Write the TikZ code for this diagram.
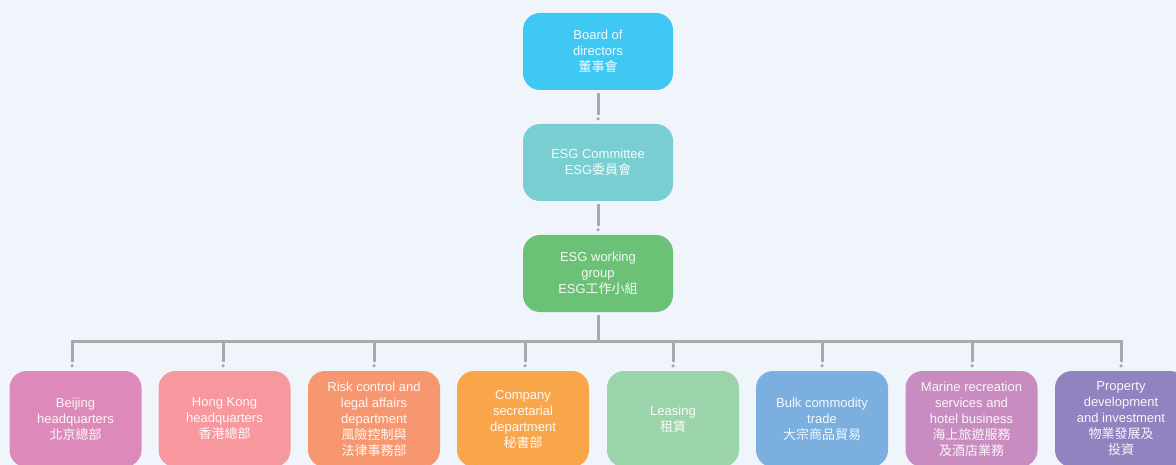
\documentclass[tikz,border=0pt]{standalone}
\usepackage{fontspec}
\setmainfont{Liberation Sans}
\newfontfamily\cjk{Noto Sans CJK TC}
\usetikzlibrary{positioning,calc}
\definecolor{bgc}{HTML}{F0F5FC}
\definecolor{linec}{HTML}{A8A9AD}
\definecolor{cBoard}{HTML}{3FC8F4}
\definecolor{cComm}{HTML}{78CED1}
\definecolor{cWork}{HTML}{6BC276}
\definecolor{cBei}{HTML}{DD8ABA}
\definecolor{cHK}{HTML}{F6989D}
\definecolor{cRisk}{HTML}{F6976F}
\definecolor{cComp}{HTML}{F9A64B}
\definecolor{cLease}{HTML}{9BD4AA}
\definecolor{cBulk}{HTML}{7AAFDF}
\definecolor{cMar}{HTML}{C98CC1}
\definecolor{cProp}{HTML}{9183C0}
\tikzset{
  box/.style={draw=none, rounded corners=17pt, align=center, text=white, text opacity=0.92,
    font=\fontsize{13}{16}\selectfont, inner sep=0pt},
  topbox/.style={box, minimum width=150pt, minimum height=77pt},
  botbox/.style={box, minimum width=132pt, minimum height=96pt},
  conn/.style={draw=linec, line width=3pt},
  dotc/.style={fill=linec},
}
\begin{document}
\begin{tikzpicture}[x=1pt,y=-1pt]
\useasboundingbox (0,0) rectangle (1176,465);
\fill[bgc] (0,0) rectangle (1176,465);
\clip (0,0) rectangle (1176,465);

\node[topbox, fill=cBoard] (board) at (598,51.5) {Board of\\directors\\{\cjk 董事會}};
\node[topbox, fill=cComm] (comm) at (598,162.5) {ESG Committee\\ESG{\cjk 委員會}};
\node[topbox, fill=cWork] (work) at (598,273.5) {ESG working\\group\\ESG{\cjk 工作小組}};

\node[botbox, fill=cBei] (b1) at (75.5,419) {Beijing\\headquarters\\{\cjk 北京總部}};
\node[botbox, fill=cHK] (b2) at (224.5,419) {Hong Kong\\headquarters\\{\cjk 香港總部}};
\node[botbox, fill=cRisk] (b3) at (374,419) {Risk control and\\legal affairs\\department\\{\cjk 風險控制與}\\{\cjk 法律事務部}};
\node[botbox, fill=cComp] (b4) at (523,419) {Company\\secretarial\\department\\{\cjk 秘書部}};
\node[botbox, fill=cLease] (b5) at (673,419) {Leasing\\{\cjk 租賃}};
\node[botbox, fill=cBulk] (b6) at (822,419) {Bulk commodity\\trade\\{\cjk 大宗商品貿易}};
\node[botbox, fill=cMar] (b7) at (971.5,419) {Marine recreation\\services and\\hotel business\\{\cjk 海上旅遊服務}\\{\cjk 及酒店業務}};
\node[botbox, fill=cProp] (b8) at (1121,419) {Property\\development\\and investment\\{\cjk 物業發展及}\\{\cjk 投資}};

% vertical connectors between top boxes
\draw[conn] ([yshift=-3pt]board.south) -- ([yshift=9pt]comm.north);
\fill[dotc] ([yshift=5pt]comm.north) circle (1.8pt);
\draw[conn] ([yshift=-3pt]comm.south) -- ([yshift=9pt]work.north);
\fill[dotc] ([yshift=5pt]work.north) circle (1.8pt);

% bus
\coordinate (busL) at (72,341.5);
\coordinate (busR) at (1121,341.5);
\draw[conn] ([yshift=-3pt]work.south) -- (work.south |- busL);
\draw[conn, line join=miter] ([yshift=9pt]b1.north -| busL) -- (busL) -- (busR) -- ([yshift=9pt]b8.north);
\fill[dotc] ([yshift=5pt]b1.north -| busL) circle (1.8pt);
\fill[dotc] ([yshift=5pt]b8.north) circle (1.8pt);
\foreach \n/\x in {b2/223,b3/374,b4/525,b5/673,b6/822,b7/972}{
  \draw[conn] (\x,341.5) -- ([yshift=9pt]\n.north -| {\x,0});
  \fill[dotc] ([yshift=5pt]\n.north -| {\x,0}) circle (1.8pt);
}
\end{tikzpicture}
\end{document}
